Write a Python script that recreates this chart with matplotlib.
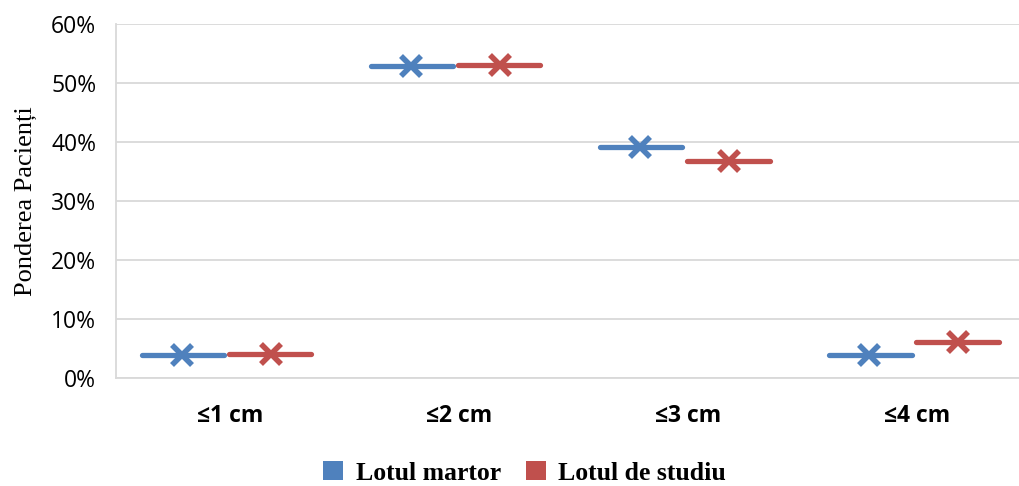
import numpy as np
import matplotlib
matplotlib.use("Agg")
import matplotlib.pyplot as plt
from matplotlib.patches import Patch
from matplotlib.ticker import PercentFormatter

categories = ["≤1 cm", "≤2 cm", "≤3 cm", "≤4 cm"]
lotul_martor = [3.9, 52.9, 39.2, 3.9]
lotul_studiu = [4.1, 53.1, 36.7, 6.1]
series_names = ["Lotul martor", "Lotul de studiu"]

blue = "#4F81BD"
red = "#C0504D"

fig = plt.figure(figsize=(10.19, 4.86), dpi=100)
# plot area runs a little past the right edge of the picture, as in the original
ax = fig.add_axes([0.1135, 0.222, 0.899, 0.729])

x = np.arange(len(categories))

# each series is a short horizontal dash with an X marker in the middle
ax.hlines(lotul_martor, x - 0.385, x - 0.025, color=blue, lw=3.8, capstyle="round", zorder=3)
ax.plot(x - 0.21, lotul_martor, ls="none", marker="x", ms=14, mew=4, color=blue, zorder=4)
ax.hlines(lotul_studiu, x - 0.005, x + 0.355, color=red, lw=3.8, capstyle="round", zorder=3)
ax.plot(x + 0.177, lotul_studiu, ls="none", marker="x", ms=14, mew=4, color=red, zorder=4)

ax.set_xlim(-0.5, len(categories) - 0.5)
ax.set_ylim(0, 60)
ax.set_yticks(np.arange(0, 61, 10))
ax.yaxis.set_major_formatter(PercentFormatter(decimals=0))
ax.set_xticks(x)
ax.set_xticklabels(categories, fontsize=16.5, fontweight="bold", family="Open Sans")
for lab in ax.get_yticklabels():
    lab.set_fontsize(16.5)
    lab.set_family("Open Sans")
ax.tick_params(length=0)
ax.tick_params(axis="x", pad=19)
ax.tick_params(axis="y", pad=14)

ax.grid(axis="y", color="#d9d9d9", lw=1.3)
ax.set_axisbelow(True)
for s in ["top", "right"]:
    ax.spines[s].set_visible(False)
for s in ["left", "bottom"]:
    ax.spines[s].set_color("#d9d9d9")
    ax.spines[s].set_linewidth(1.3)

ax.set_ylabel("Ponderea Pacienți", family="Liberation Serif", fontsize=19, labelpad=10)

handles = [Patch(facecolor=blue), Patch(facecolor=red)]
fig.legend(handles, series_names, loc="center", bbox_to_anchor=(0.515, 0.027), ncol=2, frameon=False,
           prop={"family": "Liberation Serif", "weight": "bold", "size": 18.5},
           handlelength=0.75, handleheight=0.75, handletextpad=0.5, columnspacing=1.0)

fig.savefig("out.png", dpi=100)
